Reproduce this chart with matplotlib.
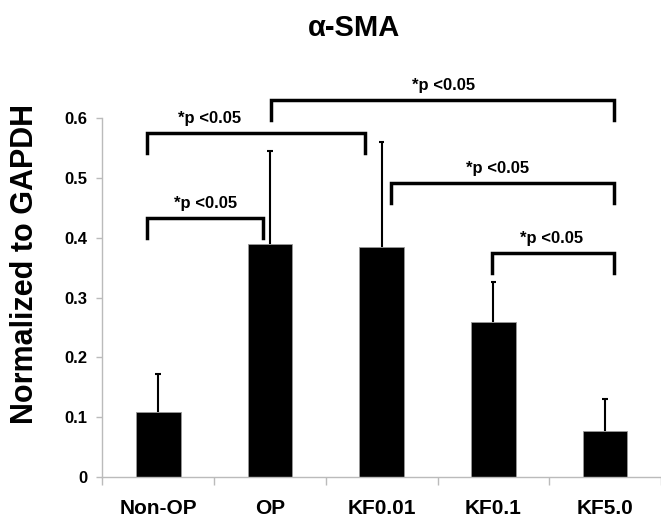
import matplotlib
matplotlib.use("Agg")
import matplotlib.pyplot as plt
import numpy as np

plt.rcParams["font.family"] = ["Liberation Sans", "DejaVu Sans"]
plt.rcParams["font.weight"] = "bold"

# data
groups = ["Non-OP", "OP", "KF0.01", "KF0.1", "KF5.0"]
means = [0.109, 0.389, 0.384, 0.259, 0.077]
err_up = [0.063, 0.156, 0.176, 0.067, 0.053]

# significance brackets: left/right ends (category units), bracket height, label x
br_left = [-0.10, -0.10, 1.01, 2.08, 2.99]
br_right = [0.94, 1.85, 4.08, 4.08, 4.08]
br_height = [0.433, 0.575, 0.630, 0.491, 0.374]
br_label_x = [0.42, 0.46, 2.55, 3.04, 3.52]
br_text = "*p <0.05"

fig = plt.figure(figsize=(6.61, 5.19), dpi=100)
ax = fig.add_axes([102.3 / 661, 1 - 477 / 519, 1 - 102.3 / 661, (477 - 118) / 519])

x = np.arange(len(groups))
ax.bar(x, means, width=0.4, color="black", edgecolor="#999999", linewidth=0.6, zorder=2)

# upper-only error bars with a small cap at the top
tops = np.array(means) + np.array(err_up)
ax.vlines(x, means, tops, color="black", linewidth=1.5, zorder=3)
ax.hlines(tops, x - 0.025, x + 0.025, color="black", linewidth=1.5, zorder=3)

drop = 0.033
for xl, xr, h, tx in zip(br_left, br_right, br_height, br_label_x):
    ax.plot([xl, xl, xr, xr], [h - drop, h, h, h - drop], color="black",
            linewidth=2.5, solid_joinstyle="miter", clip_on=False, zorder=4)
    ax.text(tx, h + 0.024, br_text, ha="center", va="center", fontsize=12,
            fontweight="bold", clip_on=False)

ax.set_xlim(-0.5, 4.458)
ax.set_ylim(0, 0.6)
ax.set_yticks(np.arange(0, 0.61, 0.1))
ax.set_yticklabels(["0"] + [f"{v:.1f}" for v in np.arange(0.1, 0.61, 0.1)])
ax.set_xticks(x)
ax.set_xticklabels(groups, fontsize=15, fontweight="bold")
ax.set_xticks(np.arange(-0.5, 4.6, 1.0), minor=True)
ax.tick_params(axis="x", which="major", length=0, pad=16)
ax.tick_params(axis="x", which="minor", length=6, color="#bbbbbb", width=1)
ax.tick_params(axis="y", length=4, color="#bbbbbb", width=1, pad=7, labelsize=12)
for lab in ax.get_yticklabels():
    lab.set_fontweight("bold")

for side in ["top", "right"]:
    ax.spines[side].set_visible(False)
for side in ["left", "bottom"]:
    ax.spines[side].set_color("#bbbbbb")
    ax.spines[side].set_linewidth(1)

fig.text(25 / 661, 1 - 264 / 519, "Normalized to GAPDH", rotation=90,
         ha="center", va="center", fontsize=22, fontweight="bold")
fig.text(354 / 661, 1 - 28 / 519, "α-SMA", ha="center", va="center",
         fontsize=21, fontweight="bold")

fig.savefig("out.png", dpi=100)
